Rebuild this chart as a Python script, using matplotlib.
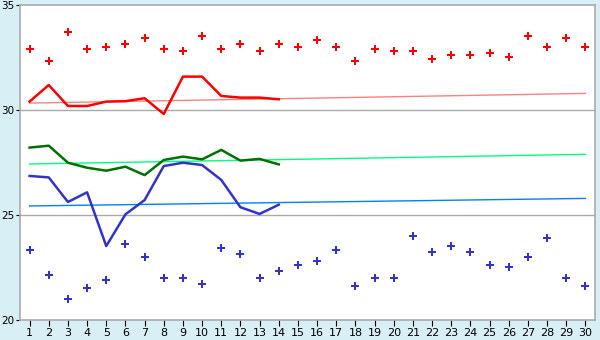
import numpy as np
import matplotlib
matplotlib.use('Agg')
from matplotlib.pyplot import *

days = np.arange(1, 31)
line_days = np.arange(1, 15)

# daily scatter points
high_pts = [32.89, 32.33, 33.71, 32.89, 32.98, 33.14, 33.41, 32.89, 32.79, 33.52,
            32.89, 33.13, 32.79, 33.13, 32.98, 33.32, 32.98, 32.32, 32.89, 32.79,
            32.79, 32.41, 32.60, 32.60, 32.70, 32.51, 33.51, 32.98, 33.41, 32.98]
low_pts = [23.32, 22.14, 20.98, 21.51, 21.89, 23.60, 22.98, 21.98, 21.98, 21.70,
           23.41, 23.13, 21.98, 22.32, 22.60, 22.79, 23.32, 21.60, 21.98, 21.98,
           23.98, 23.22, 23.51, 23.22, 22.60, 22.51, 22.98, 23.89, 21.98, 21.60]

# lines for first 14 days
red_line = [30.40, 31.19, 30.19, 30.19, 30.40, 30.42, 30.56, 29.81, 31.59, 31.59,
            30.67, 30.59, 30.59, 30.51]
green_line = [28.21, 28.30, 27.49, 27.25, 27.11, 27.30, 26.90, 27.62, 27.78, 27.65,
              28.10, 27.59, 27.67, 27.41]
blue_line = [26.86, 26.79, 25.62, 26.08, 23.52, 25.03, 25.71, 27.33, 27.49, 27.38,
             26.67, 25.37, 25.05, 25.49]

# trend lines (start day 1, end day 30)
trend_days = [1, 30]
red_trend = [30.33, 30.79]
green_trend = [27.43, 27.89]
blue_trend = [25.43, 25.79]

fig = figure(figsize=(6, 3.4), dpi=100)
fig.patch.set_facecolor('#d9eff6')
ax = fig.add_axes([20/600, 20/340, 575/600, 315/340])
ax.set_facecolor('white')

for y in [25, 30]:
    ax.axhline(y, color='#aaaaaa', lw=1, zorder=1)

ax.plot(trend_days, red_trend, color='#ff8080', lw=1)
ax.plot(trend_days, green_trend, color='#00ff80', lw=1)
ax.plot(trend_days, blue_trend, color='#0080ff', lw=1)

ax.plot(line_days, red_line, color='#ff0000', lw=1.8)
ax.plot(line_days, green_line, color='#007000', lw=1.8)
ax.plot(line_days, blue_line, color='#3333cc', lw=1.8)

ax.plot(days, high_pts, 'P', color='#ff0000', ms=5.5, mew=0, ls='none')
ax.plot(days, low_pts, 'P', color='#3333cc', ms=5.5, mew=0, ls='none')

ax.set_xlim(0.5, 30.5)
ax.set_ylim(20, 35)
ax.set_xticks(days)
ax.set_yticks([20, 25, 30, 35])
for s in ax.spines.values():
    s.set_color('#aaaaaa')
    s.set_linewidth(1.2)
ax.tick_params(axis='x', labelsize=8, length=4, color='black', pad=2)
ax.tick_params(axis='y', labelsize=7.5, length=3, color='black', pad=1)

fig.savefig('out.png', dpi=100, facecolor=fig.get_facecolor())
